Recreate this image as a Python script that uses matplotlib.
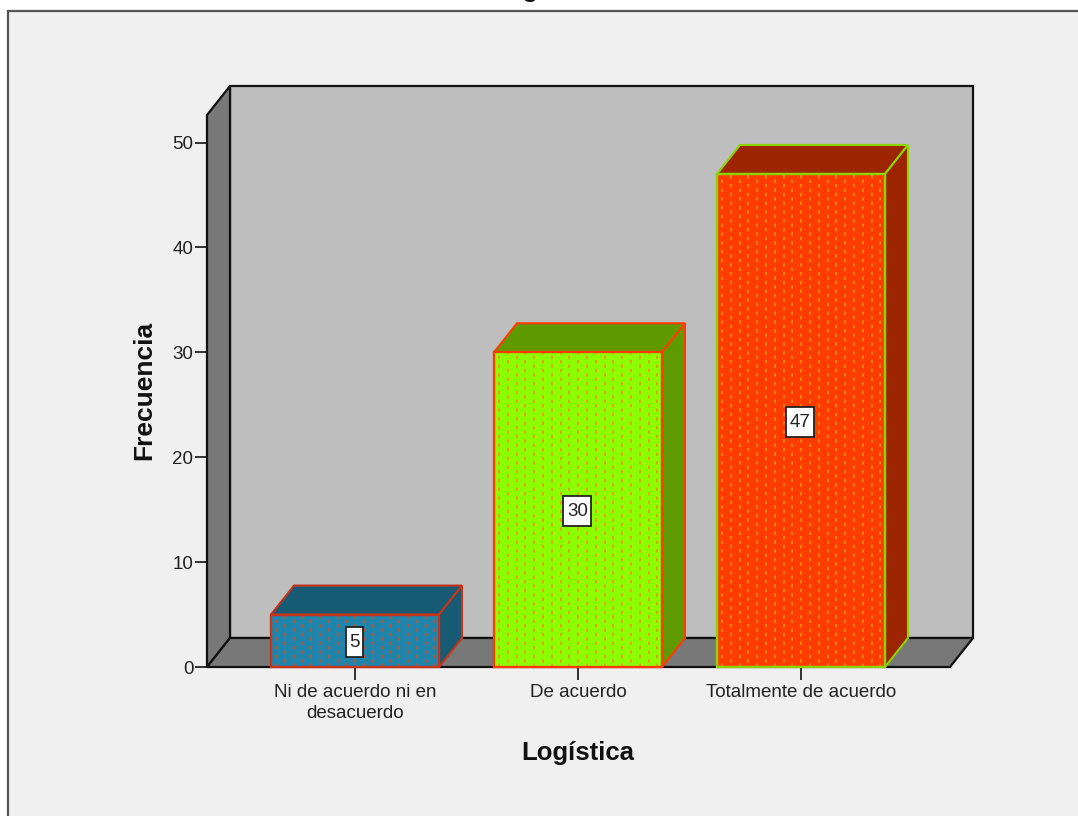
import matplotlib
matplotlib.use("Agg")
import matplotlib.pyplot as plt
import numpy as np
from matplotlib.patches import Rectangle
from matplotlib.path import Path

categories = ["Ni de acuerdo ni en\ndesacuerdo", "De acuerdo", "Totalmente de acuerdo"]
frequencies = [5, 30, 47]
y_ticks = [0, 10, 20, 30, 40, 50]
front_colors = ["#2185ab", "#8cff00", "#ff3c00"]
dark_colors = ["#175a73", "#5f9a00", "#9c2400"]
edge_colors = ["#c8341a", "#ff3c00", "#8cd400"]
dot_colors = ["#c8502a", "#f09000", "#e89000"]

W, H = 1078, 816
plt.rcParams["font.family"] = ["Liberation Sans", "DejaVu Sans"]
plt.rcParams["lines.scale_dashes"] = False


def tall_box(x0, y0, width, height, mutation_size):
    """Label box with more vertical than horizontal padding (pixels)."""
    a, b, c, d = x0 - 3.5, y0 - 5.5, x0 + width + 3.5, y0 + height + 7.5
    return Path([(a, b), (c, b), (c, d), (a, d), (a, b)], closed=True)


fig = plt.figure(figsize=(W / 100, H / 100), dpi=100, facecolor="white")
fig.add_artist(Rectangle((8 / W, -0.1), 1.2, (H - 11) / H + 0.1, transform=fig.transFigure,
                         facecolor="#f0f0f0", edgecolor="#555555", linewidth=1.6, zorder=-5))

# plot box in pixels
L, R, Y0, Y50, TOP = 207, 950, 667, 142.5, 115
px_unit = (Y0 - Y50) / 50
ax = fig.add_axes([L / W, 1 - Y0 / H, (R - L) / W, (Y0 - TOP) / H], zorder=2)
sp = 223.0
x0 = (355 - L) / sp
ax.set_xlim(-x0, (R - L) / sp - x0)
ax.set_ylim(0, (Y0 - TOP) / px_unit)
ax.patch.set_alpha(0)
xl, xr = ax.get_xlim()
yt = ax.get_ylim()[1]
dx, dy = 23 / sp, 29 / px_unit
width = 168 / sp

# box walls
ax.fill([xl + dx, xr + dx, xr + dx, xl + dx], [dy, dy, yt + dy, yt + dy], fc="#bebebe", ec="#111111", lw=1.6, clip_on=False, zorder=1)
ax.fill([xl, xl + dx, xl + dx, xl], [0, dy, yt + dy, yt], fc="#787878", ec="#111111", lw=1.6, clip_on=False, zorder=2)
ax.fill([xl, xr, xr + dx, xl + dx], [0, 0, dy, dy], fc="#787878", ec="#111111", lw=1.6, clip_on=False, zorder=2)

xs = np.arange(len(categories))
for i, (x, v) in enumerate(zip(xs, frequencies)):
    a, b = x - width / 2, x + width / 2
    ax.fill([a, b, b + dx, a + dx], [v, v, v + dy, v + dy], fc=dark_colors[i], ec=edge_colors[i], lw=1.5, zorder=3, clip_on=False)
    ax.fill([b, b + dx, b + dx, b], [0, dy, v + dy, v], fc=dark_colors[i], ec=edge_colors[i], lw=1.5, zorder=3, clip_on=False)
    ax.bar(x, v, width, color=front_colors[i], zorder=4)
    # staggered dotted texture
    step = 8.8
    cols = np.arange(a + 5 / sp, b - 1 / sp, step / sp)
    for k, cx in enumerate(cols):
        ax.vlines(cx, 0, v, color=dot_colors[i], lw=1.2, zorder=5,
                  linestyles=[((k % 2) * 4.4 * 0.72, (3.4 * 0.72, 5.4 * 0.72))])
    ax.add_patch(Rectangle((a, 0), width, v, fc="none", ec=edge_colors[i], lw=1.7, zorder=6, clip_on=False))
    ax.annotate(str(v), (x, v / 2), xytext=(-0.5, -1.5), textcoords="offset points",
                ha="center", va="center", fontsize=13.5, color="#222222", zorder=7,
                bbox=dict(boxstyle=tall_box, fc="white", ec="#222222", lw=1.3))

for s in ax.spines.values():
    s.set_visible(False)
ax.set_xticks(xs, categories)
ax.set_yticks(y_ticks)
ax.tick_params(axis="x", length=9, width=1.3, pad=3, labelsize=13.5, colors="#222222")
ax.tick_params(axis="y", length=8.6, width=1.3, pad=1.2, labelsize=13.5, colors="#222222")
for t in ax.get_xticklabels():
    t.set_linespacing(1.3)

fig.text(144 / W, 1 - 390.5 / H, "Frecuencia", rotation=90, ha="center", va="center",
         fontsize=19, fontweight="bold", color="#111111")
fig.text(578 / W, 1 - 753 / H, "Logística", ha="center", va="center", fontsize=18.5, fontweight="bold", color="#111111")
fig.text(548 / W, 1 - (-10) / H, "Logística", ha="center", va="center", fontsize=18.5, fontweight="bold", color="#111111")

fig.savefig("out.png", dpi=100, facecolor=fig.get_facecolor())
